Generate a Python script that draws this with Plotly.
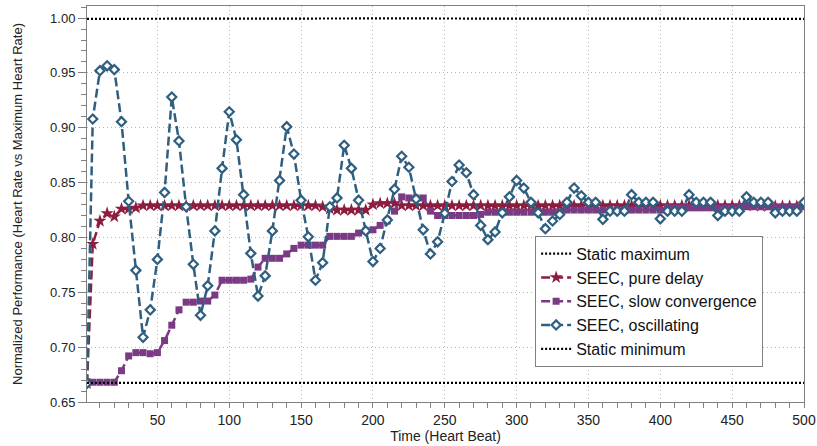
import plotly.graph_objects as go

# x positions (heart beats)
x_beats = [1, 5, 10, 15, 20, 25, 30, 35, 40, 45, 50, 55, 60, 65, 70, 75, 80, 85, 90, 95,
           100, 105, 110, 115, 120, 125, 130, 135, 140, 145, 150, 155, 160, 165, 170, 175, 180, 185, 190, 195,
           200, 205, 210, 215, 220, 225, 230, 235, 240, 245, 250, 255, 260, 265, 270, 275, 280, 285, 290, 295,
           300, 305, 310, 315, 320, 325, 330, 335, 340, 345, 350, 355, 360, 365, 370, 375, 380, 385, 390, 395,
           400, 405, 410, 415, 420, 425, 430, 435, 440, 445, 450, 455, 460, 465, 470, 475, 480, 485, 490, 495, 500]

pure_delay = [0.667, 0.794, 0.815, 0.822, 0.819, 0.826, 0.826, 0.827,
              0.829, 0.829, 0.829, 0.829, 0.829, 0.829, 0.829, 0.829, 0.829, 0.829,
              0.829, 0.829, 0.829, 0.829, 0.829, 0.829, 0.829, 0.829, 0.829, 0.829,
              0.829, 0.829, 0.829, 0.829, 0.829,
              0.828, 0.826, 0.825, 0.825, 0.825, 0.825, 0.825,
              0.830, 0.831, 0.831, 0.831,
              0.829, 0.829, 0.829, 0.829, 0.829, 0.829, 0.829, 0.829, 0.829, 0.829,
              0.829, 0.829, 0.829, 0.829, 0.829, 0.829, 0.829, 0.829, 0.829, 0.829,
              0.829, 0.829, 0.829, 0.829, 0.829, 0.829, 0.829, 0.829, 0.829, 0.829,
              0.829, 0.829, 0.829, 0.829, 0.829, 0.829, 0.829, 0.829, 0.829, 0.829,
              0.829, 0.829, 0.829, 0.829, 0.829, 0.829, 0.829, 0.829, 0.829, 0.829,
              0.8285, 0.8285, 0.8285, 0.8285, 0.8285, 0.8285, 0.8285]

slow_convergence = [0.6685, 0.668, 0.668, 0.668, 0.668, 0.6785, 0.692, 0.695, 0.695, 0.694,
                    0.695, 0.706, 0.720, 0.734, 0.741, 0.741, 0.742, 0.742, 0.7475, 0.761,
                    0.761, 0.761, 0.761, 0.762, 0.773, 0.781, 0.781, 0.781, 0.785, 0.790,
                    0.793, 0.793, 0.793, 0.793, 0.801, 0.801, 0.801, 0.801, 0.804, 0.806,
                    0.807, 0.811, 0.815, 0.824, 0.837, 0.836, 0.836, 0.836, 0.824, 0.820,
                    0.820, 0.820, 0.820, 0.820, 0.820, 0.821,
                    0.823, 0.823, 0.823, 0.823, 0.823, 0.823, 0.823, 0.823, 0.823, 0.823, 0.823,
                    0.825, 0.825, 0.825, 0.825, 0.825, 0.825, 0.825, 0.825, 0.825, 0.825,
                    0.825, 0.825, 0.825, 0.825,
                    0.827, 0.827, 0.827, 0.827, 0.827, 0.827, 0.827, 0.827, 0.827, 0.827,
                    0.828, 0.828, 0.828, 0.828, 0.828, 0.828, 0.828, 0.828, 0.828, 0.828]

oscillating = [0.667, 0.908, 0.952, 0.9565, 0.953, 0.9055, 0.833, 0.770, 0.709, 0.734,
               0.780, 0.841, 0.928, 0.888, 0.828, 0.7755, 0.729, 0.756, 0.806, 0.863,
               0.9146, 0.889, 0.839, 0.7855, 0.7466, 0.765, 0.806, 0.852, 0.901, 0.876,
               0.834, 0.8006, 0.761, 0.777, 0.828, 0.836, 0.884, 0.863, 0.834, 0.806,
               0.778, 0.790, 0.816, 0.844, 0.874, 0.864, 0.835, 0.807, 0.785, 0.796,
               0.822, 0.851, 0.866, 0.859, 0.839, 0.811, 0.798, 0.805, 0.8225, 0.837,
               0.852, 0.845, 0.832, 0.8225, 0.808, 0.815, 0.821, 0.832, 0.845, 0.838,
               0.832, 0.832, 0.8165, 0.824, 0.824, 0.824, 0.839, 0.832, 0.832, 0.832,
               0.817, 0.824, 0.824, 0.824, 0.839, 0.832, 0.832, 0.832, 0.820, 0.824,
               0.824, 0.824, 0.837, 0.832, 0.832, 0.832, 0.8225, 0.824, 0.824, 0.824, 0.832]

static_x = [1, 25, 50, 75, 100, 125, 150, 175, 200, 225, 250, 275, 300, 325, 350, 375, 400, 425, 450, 475, 500]
static_max = [0.9993, 0.9994, 0.9995, 0.9994, 0.9995, 0.9996, 0.9995, 0.9994, 0.9996, 0.9997, 0.9996,
              0.9995, 0.9995, 0.9994, 0.9995, 0.9995, 0.9994, 0.9995, 0.9994, 0.9993, 0.9993]
static_min = [0.6675, 0.6675, 0.6675, 0.6675, 0.6675, 0.6675, 0.6675, 0.6675, 0.6675, 0.6675, 0.6675,
              0.6675, 0.6675, 0.6675, 0.6675, 0.6675, 0.6675, 0.6675, 0.6675, 0.6675, 0.6675]

RED = "#8c1d3f"
PURPLE = "#7b3b84"
BLUE = "#2f5f80"
DASH = "9px,4px"

fig = go.Figure()
fig.add_trace(go.Scatter(x=static_x, y=static_max, mode="lines", name="Static maximum",
                         line=dict(color="black", width=2.2, dash="2px,2px")))
fig.add_trace(go.Scatter(x=x_beats, y=pure_delay, mode="lines+markers", name="SEEC, pure delay",
                         line=dict(color=RED, width=2.5, dash=DASH),
                         marker=dict(symbol="star", size=10, color=RED, line=dict(width=0))))
fig.add_trace(go.Scatter(x=x_beats, y=slow_convergence, mode="lines+markers", name="SEEC, slow convergence",
                         line=dict(color=PURPLE, width=2.5, dash=DASH),
                         marker=dict(symbol="square", size=7, color=PURPLE, line=dict(width=0))))
fig.add_trace(go.Scatter(x=x_beats, y=oscillating, mode="lines+markers", name="SEEC, oscillating",
                         line=dict(color=BLUE, width=2.5, dash=DASH),
                         marker=dict(symbol="diamond", size=7, color="white", line=dict(color=BLUE, width=2.2))))
fig.add_trace(go.Scatter(x=static_x, y=static_min, mode="lines", name="Static minimum",
                         line=dict(color="black", width=2.2, dash="2px,2px")))

axis_common = dict(showline=True, linecolor="#808080", linewidth=1, mirror=True,
                   gridcolor="#b8b8b8", griddash="1px,3px", gridwidth=1, zeroline=False,
                   ticks="outside", tickcolor="#808080", automargin=False)

fig.update_layout(
    width=817, height=446,
    margin=dict(l=87, r=13, t=6, b=44),
    paper_bgcolor="white", plot_bgcolor="white",
    font=dict(family="Liberation Sans, Arial, sans-serif", size=13, color="#222"),
    showlegend=True,
    legend=dict(x=0.625, y=0.42, xanchor="left", yanchor="top",
                bgcolor="white", bordercolor="#808080", borderwidth=1,
                font=dict(size=16, color="#111"), tracegroupgap=0),
    xaxis=dict(range=[1, 500], dtick=50, tick0=0, ticklen=5,
               title=dict(text="Time (Heart Beat)", standoff=4,
                          font=dict(family="Liberation Sans Narrow, Liberation Sans, sans-serif", size=14)),
               tickfont=dict(family="Liberation Sans Narrow, Liberation Sans, sans-serif", size=14),
               minor=dict(dtick=10, ticks="outside", ticklen=5, tickcolor="#808080", showgrid=False),
               **axis_common),
    yaxis=dict(range=[0.65, 1.011], dtick=0.05, tick0=0.65, tickformat=".2f", ticklen=8,
               title=dict(text="Normalized Performance (Heart Rate vs Maximum Heart Rate)", standoff=24,
                          font=dict(size=13)),
               tickfont=dict(size=13),
               minor=dict(dtick=0.01, ticks="outside", ticklen=5, tickcolor="#808080", showgrid=False),
               **axis_common),
)

fig.write_html("out.html", config={"displayModeBar": False},
               post_script="document.body.style.margin='0';document.body.style.overflow='hidden';")
